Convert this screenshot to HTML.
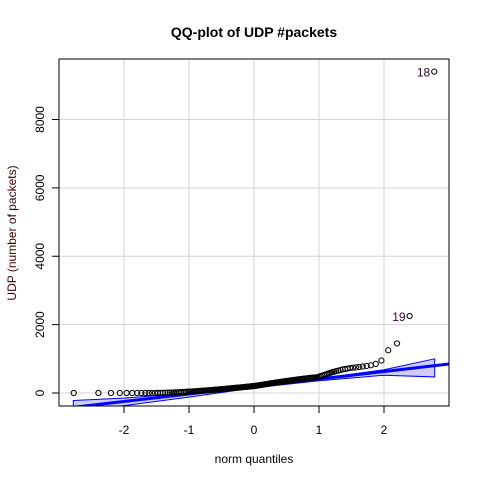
<!DOCTYPE html>
<html><head><meta charset="utf-8"><style>
body{margin:0;background:#fff}
svg{display:block;font-family:"Liberation Sans",Arial,sans-serif}
</style></head><body>
<svg id="c" width="480" height="480" viewBox="0 0 480 480">
<rect width="480" height="480" fill="#fff"/>
<text x="254" y="37" text-anchor="middle" font-size="14" font-weight="bold">QQ-plot of UDP #packets</text>
<text x="254" y="463" text-anchor="middle" font-size="12">norm quantiles</text>
<text transform="translate(16,233) rotate(-90)" text-anchor="middle" font-size="12" fill="#400">UDP (number of packets)</text>
<g id="grid"></g><g id="env"></g><g id="pts"></g><g id="axes"></g>
<rect x="59" y="59" width="390" height="347" fill="none" stroke="#000"/>
</svg>
<script>
const xTicks=[-2,-1,0,1,2];
const yTicks=[0,2000,4000,6000,8000];
const values=[0,0,0,0,0,0,0,0,0,0,
1,2,3,4,6,8,10,12,14,16,18,20,22,25,28,31,34,37,40,
42,45,47,50,53,55,58,61,63,66,69,71,74,77,79,82,85,87,90,93,95,98,101,103,106,109,111,114,117,119,122,125,127,130,133,135,138,141,143,146,149,151,154,157,159,162,165,167,170,173,175,178,181,183,186,189,191,194,197,199,200,
204,208,212,217,221,225,230,234,238,243,247,251,256,260,264,269,273,277,282,286,290,295,299,303,308,312,316,321,325,329,334,338,342,347,351,355,360,364,368,373,377,381,386,390,394,399,403,407,412,416,420,425,429,433,438,442,446,451,455,458,460,
480,495,510,525,540,560,575,590,610,625,640,655,670,690,700,715,730,
740,750,760,775,790,810,850,950,1250,1450,2250,9400];
const labelIdx=[179,178];
const labelText=["18","19"];
const lineIntercept=190, lineSlope=219;
const envQ=[-2.78,-2,-1,0,1,2,2.78];
const envUpper=[-220,-150,0,200,420,680,1000];
const envLower=[-560,-370,-120,150,360,520,470];
const NS="http://www.w3.org/2000/svg";
const X=q=>254+65*q, Y=v=>393-v*0.034188;
function mk(t,a,p){const e=document.createElementNS(NS,t);for(const k in a)e.setAttribute(k,a[k]);p.appendChild(e);return e;}
function qnorm(p){const a=[-39.6968302866538,220.946098424521,-275.928510446969,138.357751867269,-30.6647980661472,2.50662827745924],b=[-54.4760987982241,161.585836858041,-155.698979859887,66.8013118877197,-13.2806815528857],c=[-0.00778489400243029,-0.322396458041136,-2.40075827716184,-2.54973253934373,4.37466414146497,2.93816398269878],d=[0.00778469570904146,0.32246712907004,2.445134137143,3.75440866190742];let q,r;if(p<0.02425){q=Math.sqrt(-2*Math.log(p));return(((((c[0]*q+c[1])*q+c[2])*q+c[3])*q+c[4])*q+c[5])/((((d[0]*q+d[1])*q+d[2])*q+d[3])*q+1);}if(p>1-0.02425){q=Math.sqrt(-2*Math.log(1-p));return-(((((c[0]*q+c[1])*q+c[2])*q+c[3])*q+c[4])*q+c[5])/((((d[0]*q+d[1])*q+d[2])*q+d[3])*q+1);}q=p-0.5;r=q*q;return(((((a[0]*r+a[1])*r+a[2])*r+a[3])*r+a[4])*r+a[5])*q/(((((b[0]*r+b[1])*r+b[2])*r+b[3])*r+b[4])*r+1);}
const g=document.getElementById('grid'),ax=document.getElementById('axes'),en=document.getElementById('env'),pt=document.getElementById('pts');
xTicks.forEach(t=>{const x=X(t);
const l=mk('line',{x1:x,x2:x,y1:59,y2:406,stroke:'#d3d3d3'},g);


mk('line',{x1:x,x2:x,y1:406,y2:413,stroke:'#000'},ax);
const tx=mk('text',{x:x,y:434,'text-anchor':'middle','font-size':12},ax);tx.textContent=t;

});
yTicks.forEach(t=>{const y=Y(t);
const l=mk('line',{x1:59,x2:449,y1:y,y2:y,stroke:'#d3d3d3'},g);


mk('line',{x1:52,x2:59,y1:y,y2:y,stroke:'#000'},ax);
const tx=mk('text',{transform:`translate(44,${y}) rotate(-90)`,'text-anchor':'middle','font-size':12},ax);tx.textContent=t;

});
const cp=mk('clipPath',{id:'cl'},document.getElementById('c'));mk('rect',{x:59,y:59,width:390,height:347},cp);
en.setAttribute('clip-path','url(#cl)');
let poly=envQ.map((q,i)=>X(q)+','+Y(envUpper[i])).concat(envQ.map((q,i)=>X(q)+','+Y(envLower[i])).reverse()).join(' ');
const pg=mk('polygon',{points:poly,fill:'#ccccff',stroke:'#0000ff','stroke-width':1},en);


const ln=mk('line',{x1:59,y1:Y(lineIntercept+lineSlope*(-195/65)),x2:449,y2:Y(lineIntercept+lineSlope*(195/65)),stroke:'#0000ff','stroke-width':3},en);


const n=values.length;
values.forEach((v,i)=>{const q=qnorm((i+1-0.5)/n);
const c=mk('circle',{cx:X(q),cy:Y(v),r:2.6,fill:'none',stroke:'#000','stroke-width':1},pt);

});
labelIdx.forEach((i,k)=>{const q=qnorm((i+1-0.5)/n);
const t=mk('text',{x:X(q)-4,y:Y(values[i])+5,'text-anchor':'end','font-size':12,fill:'#303'},pt);t.textContent=labelText[k];

});
</script>
</body></html>
